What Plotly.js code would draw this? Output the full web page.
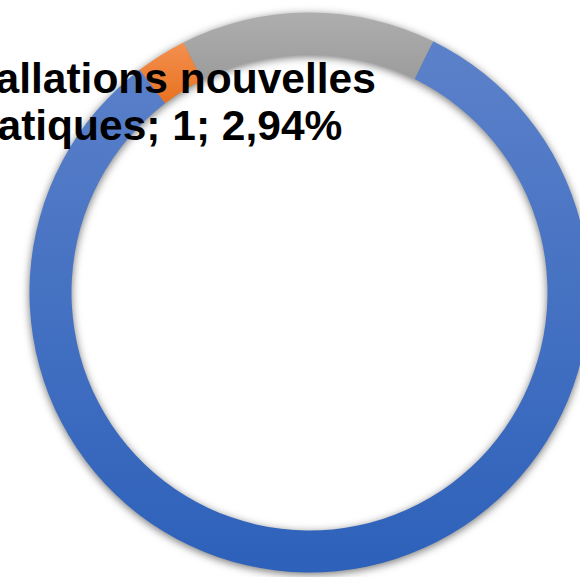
<!DOCTYPE html>
<html><head><meta charset="utf-8">
<script src="https://cdn.plot.ly/plotly-3.0.1.min.js"></script>
<style>
html,body{margin:0;padding:0;overflow:hidden;background:#fff}
#chart{width:620px;height:577px}
</style>
</head><body><div id="chart"></div>
<script>
// Data
const labels = ["Interventions", "Installations nouvelles pratiques", "Mises à jour"];
const values = [28, 1, 5];
const colors = ["#4472C4", "#ED7D31", "#A5A5A5"];
const gradTop = ["#5C81CA", "#F39050", "#AEAEAE"];
const gradBottom = ["#2D61BA", "#E8711F", "#9C9C9C"];
const labelIndex = 1;

const W = 620, H = 577;
const total = values.reduce((a, b) => a + b, 0);
const pct = (values[labelIndex] / total * 100).toFixed(2).replace('.', ',');
const name = labels[labelIndex];
const cut = name.lastIndexOf(' ');
const labelLines = [name.slice(0, cut), name.slice(cut + 1) + '; ' + values[labelIndex] + '; ' + pct + '%'];
const lineCenters = [79, 126];

const trace = {
  type: 'pie',
  labels: labels,
  values: values,
  sort: false,
  direction: 'clockwise',
  rotation: 26.2,
  hole: 0.85,
  marker: {colors: colors, line: {width: 0}},
  textinfo: 'none',
  hoverinfo: 'none',
  showlegend: false,
  domain: {x: [29.5 / W, 589.5 / W], y: [4.5 / H, 564.5 / H]}
};

const layout = {
  width: W, height: H,
  margin: {l: 0, r: 0, t: 0, b: 0},
  paper_bgcolor: '#ffffff',
  showlegend: false,
  annotations: labelLines.map(function (t, i) {
    return {
      text: t,
      xref: 'paper', yref: 'paper',
      x: 148 / W, y: 1 - lineCenters[i] / H,
      xanchor: 'center', yanchor: 'middle',
      align: 'center',
      showarrow: false,
      font: {family: 'Liberation Sans, Arial, sans-serif', size: 42.5, color: '#000000', weight: 700}
    };
  })
};

Plotly.newPlot('chart', [trace], layout, {staticPlot: true}).then(function (gd) {
  const svg = gd.querySelector('svg.main-svg');
  const ns = 'http://www.w3.org/2000/svg';
  const defs = document.createElementNS(ns, 'defs');
  svg.insertBefore(defs, svg.firstChild);
  const paths = gd.querySelectorAll('.pielayer .slice path.surface');
  paths.forEach(function (p, i) {
    const g = document.createElementNS(ns, 'linearGradient');
    g.setAttribute('id', 'sg' + i);
    g.setAttribute('x1', '0'); g.setAttribute('y1', '0');
    g.setAttribute('x2', '0'); g.setAttribute('y2', '1');
    [[0, gradTop[i]], [1, gradBottom[i]]].forEach(function (s) {
      const st = document.createElementNS(ns, 'stop');
      st.setAttribute('offset', s[0]);
      st.setAttribute('stop-color', s[1]);
      g.appendChild(st);
    });
    defs.appendChild(g);
    p.style.fill = 'url(#sg' + i + ')';
  });
  const tr = gd.querySelector('.pielayer .trace');
  if (tr) tr.style.filter = 'drop-shadow(0px 2px 4px rgba(0,0,0,0.55))';
});
</script>
</body></html>
